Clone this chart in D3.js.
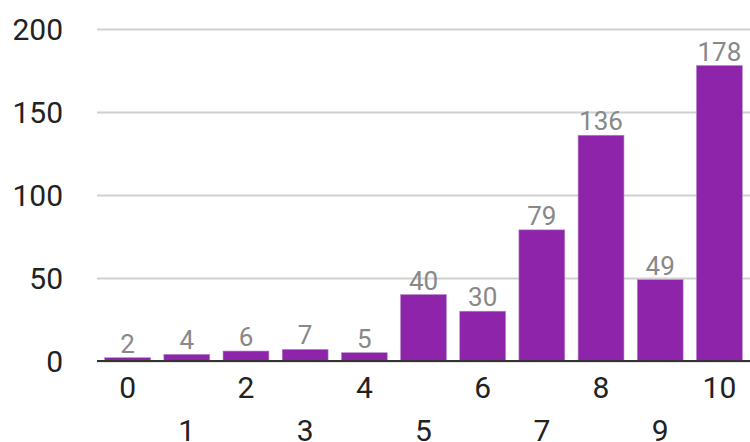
<!DOCTYPE html>
<html>
<head>
<meta charset="utf-8">
<script src="https://cdn.jsdelivr.net/npm/d3@7"></script>
<style>
  body { margin: 0; background: #fff; }
  #chart { width: 750px; height: 442px; }
  text { font-family: Roboto, "Noto Sans", sans-serif; }
</style>
</head>
<body>
<div id="chart"></div>
<script>
const categories = ['0','1','2','3','4','5','6','7','8','9','10'];
const values = [2, 4, 6, 7, 5, 40, 30, 79, 136, 49, 178];
const yTicks = [0, 50, 100, 150, 200];

const width = 750, height = 442;
const margin = { left: 97, right: 0, top: 29, bottom: 81 };

const svg = d3.select('#chart').append('svg')
  .attr('width', width)
  .attr('height', height);

const xScale = d3.scaleBand()
  .domain(categories)
  .range([margin.left, width - margin.right])
  .paddingInner(0.225)
  .paddingOuter(0.13);

const yScale = d3.scaleLinear()
  .domain([0, 200])
  .range([height - margin.bottom, margin.top]);

// gridlines + y labels
const yAxis = d3.axisLeft(yScale)
  .tickValues(yTicks)
  .tickSize(-(width - margin.left - margin.right))
  .tickPadding(34);

const gy = svg.append('g')
  .attr('class', 'y-axis')
  .attr('transform', `translate(${margin.left},0)`)
  .call(yAxis);

gy.select('.domain').remove();
gy.selectAll('line')
  .attr('stroke', '#d0d0d0')
  .attr('stroke-width', 2);
gy.selectAll('text')
  .attr('font-size', '30px')
  .attr('fill', '#222')
  .attr('dy', '0.35em');

// bars
svg.append('g').selectAll('rect')
  .data(values)
  .join('rect')
  .attr('x', (d, i) => xScale(categories[i]))
  .attr('y', d => yScale(d))
  .attr('width', xScale.bandwidth())
  .attr('height', d => yScale(0) - yScale(d))
  .attr('fill', '#8e24aa')
  .attr('stroke', '#b886c9')
  .attr('stroke-width', 0.6);

// value labels
svg.append('g').selectAll('text')
  .data(values)
  .join('text')
  .attr('x', (d, i) => xScale(categories[i]) + xScale.bandwidth() / 2)
  .attr('y', d => yScale(d) - 5)
  .attr('text-anchor', 'middle')
  .attr('font-size', '26px')
  .attr('fill', '#888')
  .text(d => d);

// baseline
svg.append('line')
  .attr('x1', margin.left)
  .attr('x2', width)
  .attr('y1', yScale(0))
  .attr('y2', yScale(0))
  .attr('stroke', '#333')
  .attr('stroke-width', 2);

// x labels, staggered in two rows
const xAxis = d3.axisBottom(xScale).tickSize(0);
const gx = svg.append('g')
  .attr('class', 'x-axis')
  .attr('transform', `translate(0,${yScale(0)})`)
  .call(xAxis);
gx.select('.domain').remove();
gx.selectAll('text')
  .attr('font-size', '30px')
  .attr('fill', '#222')
  .attr('dy', null)
  .attr('y', (d, i) => i % 2 === 0 ? 37 : 80);
</script>
</body>
</html>
